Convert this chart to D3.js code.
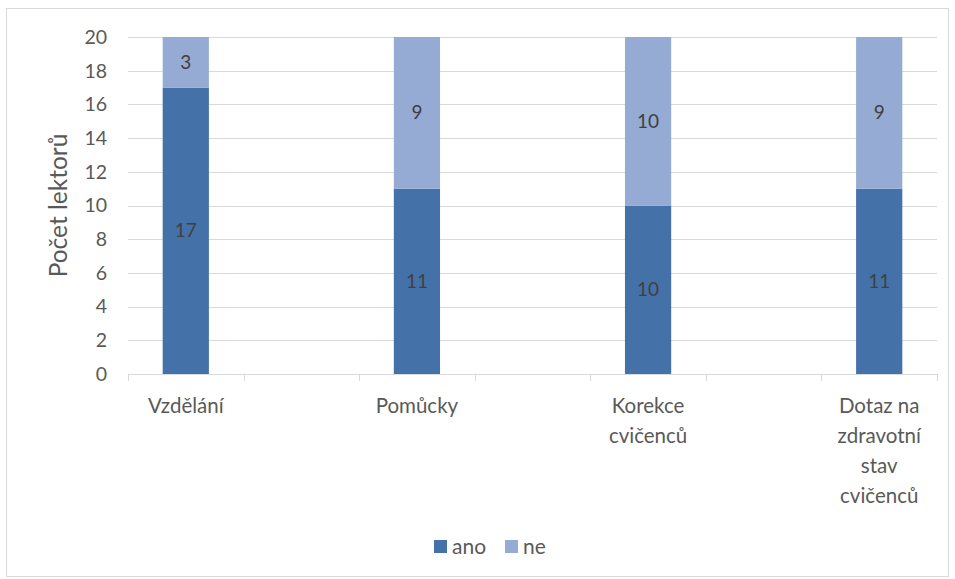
<!DOCTYPE html>
<html>
<head>
<meta charset="utf-8">
<script src="https://cdn.jsdelivr.net/npm/d3@7"></script>
<style>
  body { margin: 0; background: #fff; }
  text { font-family: Lato, "Open Sans", sans-serif; }
</style>
</head>
<body>
<div id="chart"></div>
<script>
// data
var categories = ['Vzdělání', '', 'Pomůcky', '', 'Korekce cvičenců', '', 'Dotaz na zdravotní stav cvičenců'];
var ano = [17, null, 11, null, 10, null, 11];
var ne = [3, null, 9, null, 10, null, 9];
var seriesNames = ['ano', 'ne'];
var seriesColors = ['#4472a8', '#95abd3'];
var yTicks = [0, 2, 4, 6, 8, 10, 12, 14, 16, 18, 20];

var svgWidth = 955, svgHeight = 579;
var margin = { top: 37, right: 18, bottom: 205, left: 128 };
var width = svgWidth - margin.left - margin.right;
var height = svgHeight - margin.top - margin.bottom;

var svg = d3.select('#chart').append('svg')
  .attr('width', svgWidth)
  .attr('height', svgHeight);

// chart border
svg.append('rect')
  .attr('x', 6.5).attr('y', 8.5)
  .attr('width', 942).attr('height', 568)
  .attr('fill', 'none')
  .attr('stroke', '#d9d9d9');

var g = svg.append('g')
  .attr('transform', `translate(${margin.left}, ${margin.top})`);

var x = d3.scaleBand().domain(d3.range(categories.length)).range([0, width]);
var y = d3.scaleLinear().domain([0, 20]).range([height, 0]);

// gridlines
g.selectAll('.grid').data(yTicks.filter(d => d > 0)).enter()
  .append('line')
  .attr('x1', 0).attr('x2', width)
  .attr('y1', d => Math.round(y(d)) + 0.5).attr('y2', d => Math.round(y(d)) + 0.5)
  .attr('stroke', '#d9d9d9');

// y tick labels
g.selectAll('.ylab').data(yTicks).enter()
  .append('text')
  .attr('x', -21).attr('y', d => y(d))
  .attr('dy', '0.35em')
  .attr('text-anchor', 'end')
  .attr('font-size', 19.5)
  .attr('fill', '#595959')
  .text(d => d);

// bars
var stack = categories.map((c, i) => ({ i: i, ano: ano[i], ne: ne[i] }))
  .filter(d => d.ano != null);
var barW = x.bandwidth() * 0.4;
var series = [
  stack.map(d => ({ i: d.i, y0: 0, y1: d.ano, v: d.ano })),
  stack.map(d => ({ i: d.i, y0: d.ano, y1: d.ano + d.ne, v: d.ne }))
];
series.forEach(function(s, k) {
  var grp = g.append('g');
  grp.selectAll('rect').data(s).enter().append('rect')
    .attr('x', d => x(d.i) + (x.bandwidth() - barW) / 2)
    .attr('width', barW)
    .attr('y', d => y(d.y1))
    .attr('height', d => y(d.y0) - y(d.y1))
    .attr('fill', seriesColors[k]);
  grp.selectAll('text').data(s).enter().append('text')
    .attr('x', d => x(d.i) + x.bandwidth() / 2)
    .attr('y', d => y((d.y0 + d.y1) / 2))
    .attr('dy', '0.35em')
    .attr('text-anchor', 'middle')
    .attr('font-size', 19)
    .attr('fill', '#404040')
    .text(d => d.v);
});

// x axis line and ticks
g.append('line')
  .attr('x1', 0).attr('x2', width)
  .attr('y1', height + 0.5).attr('y2', height + 0.5)
  .attr('stroke', '#d9d9d9');
var tickPos = d3.range(categories.length + 1).map(i => i * x.step());
g.selectAll('.xtick').data(tickPos).enter()
  .append('line')
  .attr('x1', d => Math.round(d) + 0.5).attr('x2', d => Math.round(d) + 0.5)
  .attr('y1', height).attr('y2', height + 7)
  .attr('stroke', '#d9d9d9');

// x labels, wrapped
function wrap(words, maxW) {
  var lines = [], cur = '';
  words.forEach(function(w) {
    var t = cur ? cur + ' ' + w : w;
    if (cur && t.length * 9.5 > maxW) { lines.push(cur); cur = w; }
    else cur = t;
  });
  if (cur) lines.push(cur);
  return lines;
}
categories.forEach(function(c, i) {
  if (!c) return;
  var lines = wrap(c.split(' '), 100);
  var t = g.append('text')
    .attr('text-anchor', 'middle')
    .attr('font-size', 20.5)
    .attr('fill', '#595959');
  lines.forEach(function(l, j) {
    t.append('tspan')
      .attr('x', x(i) + x.bandwidth() / 2)
      .attr('y', height + 39 + j * 30)
      .text(l);
  });
});

// y axis title
svg.append('text')
  .attr('transform', `translate(67, ${margin.top + height / 2}) rotate(-90)`)
  .attr('text-anchor', 'middle')
  .attr('font-size', 24.5)
  .attr('fill', '#595959')
  .text('Počet lektorů');

// legend
var legend = svg.append('g').attr('transform', 'translate(434, 540)');
var lx = [0, 71];
seriesNames.forEach(function(n, k) {
  legend.append('rect')
    .attr('x', lx[k]).attr('y', 0)
    .attr('width', 13).attr('height', 13)
    .attr('fill', seriesColors[k]);
  legend.append('text')
    .attr('x', lx[k] + 18).attr('y', 7)
    .attr('dy', '0.35em')
    .attr('font-size', 21)
    .attr('fill', '#595959')
    .text(n);
});
</script>
</body>
</html>
